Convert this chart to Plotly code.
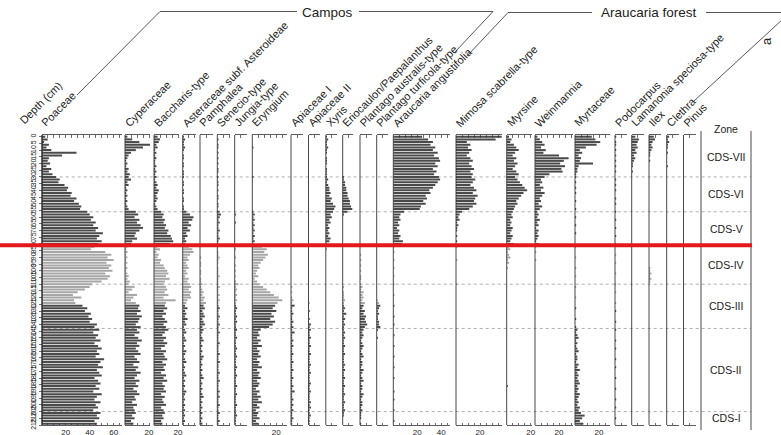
import plotly.graph_objects as go

W, H = 781, 435
def px(x):
    return x / W
def py(y):
    return 1 - y / H

# ---------------- data ----------------
depths = [0, 2, 4, 6, 8, 10, 12, 14, 16, 18,
          20, 22, 24, 26, 28, 30, 32, 34, 36, 38,
          40, 42, 44, 46, 48, 50, 52, 54, 56, 58,
          60, 62, 64, 66, 68, 70, 72, 74, 76, 78,
          80, 82, 84, 86, 88, 90, 92, 94, 96, 98,
          100, 102, 104, 106, 108, 110, 112, 114, 116, 118,
          120, 122, 124, 126, 128, 130, 132, 134, 136, 138,
          140, 142, 144, 146, 148, 150, 152, 154, 156, 158,
          160, 162, 164, 166, 168, 170, 172, 174, 176, 178,
          180, 182, 184, 186, 188, 190, 192, 194, 196, 198,
          200, 202, 204, 206, 208, 210, 212, 214]

poaceae = [3,5,2,6,4,8,29,17,6,5,
           7,4,8,6,9,12,15,14,19,22,
           21,25,24,29,27,31,33,32,38,40,
           43,41,45,43,47,45,51,48,46,50,
           47,44,41,53,58,55,60,54,58,56,
           59,53,57,55,50,42,40,36,30,26,
           33,27,28,34,38,36,41,39,42,40,
           46,44,48,43,47,45,49,44,47,50,
           46,48,45,52,49,47,51,46,48,50,
           44,47,49,45,48,43,50,46,44,49,
           45,47,43,49,46,48,44,46]
cyperaceae = [2,6,12,21,15,9,5,3,2,1,
              2,1,3,2,4,3,5,2,3,1,
              2,1,2,1,2,1,2,3,9,11,
              8,12,10,13,15,12,9,8,10,6,
              5,2,1,2,1,2,1,2,1,2,
              1,2,3,2,4,3,8,6,3,10,
              7,5,9,12,11,13,10,14,12,11,
              9,13,10,12,8,11,14,10,12,9,
              11,13,8,10,12,7,11,9,13,10,
              8,12,9,11,7,10,12,8,9,6,
              10,7,8,9,6,8,5,7]
baccharis = [3,5,4,2,3,1,2,1,2,1,
             1,2,1,2,1,2,1,2,3,2,
             4,3,2,3,2,1,2,3,6,8,
             7,9,8,10,9,12,11,14,15,16,
             13,3,5,2,4,3,6,5,8,9,
             11,12,10,13,9,8,10,11,9,12,
             8,18,10,9,11,8,10,7,9,11,
             8,10,12,9,7,10,8,11,9,6,
             10,8,9,11,7,10,8,9,6,10,
             8,11,7,9,8,10,6,9,7,8,
             10,6,8,9,7,8,6,7]
asteroideae = [1,2,1,1,2,1,0,1,1,0,
               1,1,0,1,1,1,0,1,1,0,
               1,1,0,1,1,0,1,1,3,6,
               9,8,5,7,4,6,3,4,2,3,
               2,5,8,9,6,4,5,3,4,5,
               3,4,2,5,4,6,7,5,7,6,
               7,4,3,2,4,2,3,2,4,2,
               3,1,2,3,1,2,3,1,2,1,
               3,2,1,2,3,1,2,1,2,3,
               1,2,1,2,1,3,2,1,2,1,
               2,1,2,1,2,1,2,1]
pamphalea = [0,0,0,0,0,0,0,0,0,0,
             0,0,0,0,0,0,0,0,0,0,
             0,0,0,0,0,0,0,0,0,0,
             0,0,0,0,0,0,0,0,0,0,
             0,0,0,0,0,1,0,1,1,0,
             1,1,0,1,1,2,1,2,3,2,
             4,3,5,3,4,2,3,4,2,3,
             4,2,3,2,1,2,3,1,2,1,
             2,1,3,2,1,2,1,2,1,2,
             3,1,2,1,2,1,2,3,1,2,
             1,2,1,2,1,2,1,2]
senecio = [0,1,0,1,1,0,1,0,1,0,
           1,0,1,1,0,1,0,1,1,0,
           1,0,1,1,0,1,1,0,2,3,
           2,1,2,1,1,2,1,1,2,1,
           1,1,0,1,1,2,1,1,0,1,
           1,1,2,1,1,1,2,1,1,2,
           1,2,1,1,2,1,1,2,1,1,
           2,1,1,2,1,1,1,2,1,1,
           1,2,1,1,2,1,1,1,2,1,
           1,2,1,1,1,2,1,2,1,1,
           2,1,1,2,1,1,2,1]
jungia = [0,0,0,0,0,0,0,0,0,0,
          0,0,0,0,0,0,0,0,0,0,
          0,0,0,0,0,0,0,0,0,1,
          0,0,1,0,0,0,0,0,0,0,
          0,0,1,0,0,1,0,0,1,0,
          1,0,1,0,1,3,1,2,1,2,
          1,2,1,1,2,1,1,2,1,2,
          1,1,2,1,1,2,1,1,1,2,
          1,1,2,1,1,1,2,1,1,2,
          1,1,1,2,1,1,2,1,1,1,
          2,1,1,1,2,1,1,1]
eryngium = [0,0,0,0,1,0,0,0,0,0,
            0,0,0,0,0,1,0,0,0,0,
            0,0,0,0,0,0,0,0,1,2,
            1,2,1,2,1,2,1,2,1,2,
            1,8,12,10,13,11,9,7,5,6,
            4,3,5,2,4,6,9,12,15,18,
            22,25,21,19,17,20,16,18,15,19,
            17,14,7,5,6,4,7,5,8,4,
            6,5,7,4,6,5,8,4,6,5,
            7,4,6,5,3,6,4,7,5,8,
            4,6,3,5,4,6,3,5]
apiaceae_i = [0,0,0,0,0,0,0,0,0,0,
              0,0,0,0,0,0,0,0,0,0,
              0,0,0,0,0,0,0,0,0,0,
              0,0,0,0,0,0,0,0,0,0,
              0,0,0,0,0,0,0,0,0,0,
              0,0,0,0,0,0,1,0,1,0,
              1,2,1,3,1,1,2,1,1,2,
              1,2,1,3,1,1,2,1,2,1,
              1,2,1,1,2,1,1,2,1,1,
              2,1,1,2,1,3,1,1,2,1,
              2,1,2,1,1,2,1,1]
apiaceae_ii = [0,0,0,0,0,0,0,0,0,0,
               0,0,0,0,0,0,0,0,0,0,
               0,0,0,0,0,0,0,0,0,0,
               0,0,0,0,0,0,0,0,0,0,
               0,0,0,0,0,0,0,0,0,0,
               0,0,0,0,0,0,0,0,0,0,
               0,0,1,0,0,1,0,0,1,0,
               2,1,2,1,1,2,1,1,2,1,
               1,2,1,1,1,2,1,1,2,1,
               1,1,2,1,1,2,1,1,1,2,
               1,2,1,1,2,1,1,1]
xyris = [1,2,1,1,2,1,1,0,1,1,
         1,0,1,1,1,1,2,1,2,3,
         3,4,3,5,4,6,8,7,6,4,
         5,3,4,2,3,2,3,2,4,3,
         1,0,1,0,0,0,0,0,0,0,
         0,0,0,0,0,0,0,0,0,0,
         0,0,0,0,0,0,0,0,0,0,
         0,0,0,0,0,0,0,0,0,0,
         0,0,0,0,0,0,0,0,0,0,
         0,0,0,0,0,0,0,0,0,0,
         0,0,0,0,0,0,0,0]
eriocaulon = [0,0,0,0,0,0,0,0,0,0,
              0,0,0,0,0,1,1,2,2,3,
              3,4,4,5,6,6,7,8,4,1,
              0,0,0,0,0,0,0,0,0,0,
              0,0,0,0,0,0,0,0,0,0,
              0,0,0,0,0,0,1,0,1,1,
              1,2,1,1,2,1,3,1,2,1,
              2,1,1,2,1,2,1,1,2,1,
              1,2,1,1,1,2,1,2,1,1,
              2,1,1,2,1,1,2,1,1,2,
              1,1,2,1,1,0,0,0]
plantago_aus = [0,0,0,0,0,0,0,0,0,0,
                0,0,0,0,0,0,0,0,0,0,
                0,0,0,0,0,0,0,0,0,0,
                0,0,0,0,0,0,0,0,0,0,
                0,0,0,0,1,0,1,0,1,0,
                1,0,1,1,0,1,2,1,3,2,
                3,2,4,3,2,4,3,5,4,5,
                6,4,3,2,3,2,1,2,3,2,
                1,2,3,1,2,2,1,3,2,1,
                2,3,1,2,2,1,3,2,1,2,
                2,1,2,1,1,1,0,1]
plantago_tur = [0,0,0,0,0,0,0,0,0,0,
                0,0,0,0,0,0,0,0,0,0,
                0,0,0,0,0,0,0,0,0,0,
                0,0,0,0,0,0,0,0,0,0,
                0,0,0,0,0,0,0,0,0,0,
                0,0,0,0,0,0,0,0,0,0,
                0,1,2,3,2,1,2,1,1,2,
                2,3,1,0,0,1,0,0,0,0,
                0,0,0,0,0,0,0,0,0,0,
                0,0,0,0,0,0,0,0,0,0,
                0,0,0,0,0,0,0,0]
araucaria = [24,29,33,31,35,33,37,34,38,39,
             35,37,33,36,34,38,39,37,35,33,
             30,31,27,28,25,27,23,22,9,6,
             5,6,4,5,3,5,4,6,5,8,
             7,1,0,1,0,0,1,0,0,1,
             0,0,1,0,0,1,0,0,0,1,
             0,0,0,1,0,0,0,1,0,0,
             1,0,0,0,1,0,0,0,1,0,
             0,0,1,0,0,0,1,0,0,0,
             1,0,0,0,0,1,0,0,1,0,
             0,0,1,0,0,0,1,0]
mimosa = [40,33,9,12,10,13,11,9,12,14,
          11,13,15,12,14,13,16,14,12,15,
          17,14,18,16,15,17,14,11,5,3,
          2,3,1,2,1,1,0,1,0,1,
          0,1,0,0,0,0,1,0,0,0,
          0,0,0,0,0,1,0,0,0,0,
          0,0,0,0,0,0,0,0,0,0,
          0,0,0,0,0,0,0,0,0,0,
          0,0,0,0,0,0,0,0,0,0,
          0,0,0,0,0,0,0,0,0,0,
          0,0,0,0,0,0,0,0]
myrsine = [2,4,3,6,8,10,7,5,8,6,
           9,7,5,8,10,7,9,11,13,15,
           17,14,12,10,8,9,7,6,5,4,
           5,3,4,3,5,4,3,5,4,3,
           6,2,3,1,2,3,1,2,0,1,
           0,0,0,0,0,0,0,0,0,0,
           0,0,0,0,0,0,0,0,0,0,
           0,0,0,0,0,0,0,0,0,0,
           0,0,0,0,0,0,0,0,0,0,
           0,0,0,1,0,0,0,0,0,0,
           0,0,0,0,0,0,0,0]
weinmannia = [2,4,6,8,5,9,7,20,28,24,
              21,25,22,23,12,8,5,6,4,7,
              5,8,6,4,5,3,6,4,2,3,
              2,4,2,3,1,3,2,3,2,1,
              3,1,0,1,0,0,1,0,0,0,
              0,0,0,0,0,0,0,0,0,0,
              0,0,0,0,0,0,0,0,0,0,
              0,0,0,0,0,0,0,0,0,0,
              0,0,0,0,0,0,0,0,0,0,
              0,0,0,0,0,0,0,0,0,0,
              0,0,0,0,0,0,0,0]
myrtaceae = [14,17,21,18,9,4,6,3,5,4,
             15,3,2,2,1,1,0,1,0,1,
             0,1,0,0,1,0,0,1,0,0,
             1,0,0,1,0,0,1,0,0,0,
             0,1,0,0,0,1,0,0,0,1,
             0,0,1,0,0,0,1,0,0,0,
             1,0,0,0,1,0,0,0,1,0,
             0,1,2,1,2,3,1,2,1,2,
             3,1,2,2,1,3,2,4,2,3,
             2,3,4,2,3,2,4,3,2,3,
             2,4,3,5,8,6,4,7]
podocarpus = [1,0,1,1,0,1,0,1,0,1,
              0,1,0,1,0,0,1,0,1,0,
              1,0,0,1,0,1,0,0,1,0,
              0,1,0,0,1,0,0,1,0,0,
              1,0,0,0,1,0,0,1,0,0,
              0,1,0,0,0,1,0,0,1,0,
              0,0,1,0,0,1,0,0,0,1,
              0,0,1,0,0,0,1,0,0,1,
              0,0,0,1,0,0,1,0,0,0,
              1,0,0,0,1,0,0,0,1,0,
              0,1,0,0,0,1,0,0]
lamanonia = [3,6,5,4,5,3,4,2,3,2,
             1,1,0,1,0,0,0,0,0,0,
             0,0,0,0,0,0,0,0,0,0,
             0,0,0,0,0,0,0,0,0,0,
             0,0,0,0,0,0,0,0,0,0,
             0,0,0,0,0,0,0,0,0,0,
             0,0,0,0,0,0,0,0,0,0,
             0,0,0,0,0,0,0,0,0,0,
             0,0,0,0,0,0,0,0,0,0,
             0,0,0,0,0,0,0,0,0,0,
             0,0,0,0,0,0,0,0]
ilex = [4,5,3,2,3,2,1,1,0,1,
        0,0,0,0,0,0,0,0,0,0,
        0,0,0,0,0,0,0,0,0,0,
        0,0,0,0,0,0,0,0,0,0,
        0,0,0,0,0,0,0,0,0,1,
        1,2,1,2,1,0,0,0,0,0,
        0,0,0,0,0,0,0,0,0,0,
        0,0,0,0,0,0,0,0,0,0,
        0,0,0,0,0,0,0,0,0,0,
        0,0,0,0,0,0,0,0,0,0,
        0,0,0,0,0,0,0,0]
clethra = [2,1,2,1,1,0,1,0,0,0,
           0,1,0,0,0,0,0,0,0,0,
           0,0,0,0,0,0,0,0,0,0,
           0,0,0,0,0,0,0,0,0,0,
           0,0,0,0,0,0,0,0,0,0,
           0,0,0,0,0,0,0,0,0,0,
           0,0,0,0,0,0,0,0,0,0,
           0,0,0,0,0,0,0,0,0,0,
           0,0,0,0,0,0,0,0,0,0,
           0,0,0,0,0,0,0,0,0,0,
           0,0,0,0,0,0,0,0]
pinus = [0,0,0,0,0,0,0,0,0,0,
         0,0,0,0,0,0,0,0,0,0,
         0,0,0,0,0,0,0,0,0,0,
         0,0,0,0,0,0,0,0,0,0,
         0,0,0,0,0,0,0,0,0,0,
         0,0,0,0,0,0,0,0,0,0,
         0,0,0,0,0,0,0,0,0,0,
         0,0,0,0,0,0,0,0,0,0,
         0,0,0,0,0,0,0,0,0,0,
         0,0,0,0,0,0,0,0,0,0,
         0,0,0,0,0,0,0,0]

taxa_names = ["Poaceae", "Cyperaceae", "Baccharis-type", "Asteraceae subf. Asteroideae",
              "Pamphalea", "Senecio-type", "Jungia-type", "Eryngium", "Apiaceae I",
              "Apiaceae II", "Xyris", "Eriocaulon/Paepalanthus", "Plantago australis-type",
              "Plantago turficola-type", "Araucaria angustifolia", "Mimosa scabrella-type",
              "Myrsine", "Weinmannia", "Myrtaceae", "Podocarpus", "Lamanonia speciosa-type",
              "Ilex", "Clethra", "Pinus"]
taxa_values = [poaceae, cyperaceae, baccharis, asteroideae, pamphalea, senecio, jungia,
               eryngium, apiaceae_i, apiaceae_ii, xyris, eriocaulon, plantago_aus,
               plantago_tur, araucaria, mimosa, myrsine, weinmannia, myrtaceae,
               podocarpus, lamanonia, ilex, clethra, pinus]
axis_labels = {"Poaceae": [20, 40, 60], "Cyperaceae": [20], "Baccharis-type": [20],
               "Eryngium": [20], "Araucaria angustifolia": [20, 40],
               "Mimosa scabrella-type": [20, 40], "Myrsine": [20], "Weinmannia": [20],
               "Myrtaceae": [20]}

zone_names = ["CDS-VII", "CDS-VI", "CDS-V", "CDS-IV", "CDS-III", "CDS-II", "CDS-I"]
zone_bounds = [0, 30, 56, 81, 110, 143, 205, 215]
highlight_depth = 81
depth_ticks = [0, 5, 10, 15, 20, 25, 30, 35, 40, 45, 50, 55, 60, 65, 70, 75, 80, 85, 90,
               95, 100, 105, 110, 115, 120, 125, 130, 135, 140, 145, 150, 155, 160, 165,
               170, 175, 180, 185, 190, 195, 200, 205, 210, 215]

for nm, v in zip(taxa_names, taxa_values):
    assert len(v) == len(depths), (nm, len(v))

# ---------------- layout geometry (pixels) ----------------
panel_left = [41.7, 125, 154, 182.7, 200, 217.3, 234.7, 252.3, 291, 308.5, 325.8, 342.7,
              360, 376.7, 393.3, 456, 506.7, 535, 575, 615, 631.7, 649, 666.7, 683.5]
panel_width = [80, 25, 25, 13.5, 13, 13, 12, 34.5, 12, 11.5, 11.5, 10.5, 11.7, 11.5,
               57, 45.7, 25, 38, 35, 12, 12, 12, 12, 12]
SCALE = 1.2          # pixels per percent
Y_TOP, Y_BOT = 135, 425
D_TOP = -1.27

dark = "#4a4a4a"
light = "#a6a6a6"
bar_colors = [light if 82 <= d <= 124 else dark for d in depths]
line_col = "#333333"
FONT = "Liberation Sans, Arial, Helvetica, sans-serif"
TXT = "#222222"

fig = go.Figure()
layout = dict(width=W, height=H, margin=dict(l=0, r=0, t=0, b=0, autoexpand=False),
              paper_bgcolor="white", plot_bgcolor="rgba(0,0,0,0)",
              showlegend=False, barmode="overlay",
              font=dict(family=FONT, color=TXT))

layout["yaxis"] = dict(domain=[py(Y_BOT), py(Y_TOP)], range=[215, D_TOP],
                       anchor="free", position=px(41.7), side="left", automargin=False,
                       showline=True, linecolor=line_col, linewidth=0.8,
                       ticks="outside", ticklen=3, tickwidth=0.7, tickcolor=line_col,
                       tickvals=depth_ticks, ticktext=[str(t) for t in depth_ticks],
                       tickangle=-90, tickfont=dict(size=7, family=FONT),
                       showgrid=False, zeroline=False, fixedrange=True)

shapes = []
annotations = []
for i, (nm, vals) in enumerate(zip(taxa_names, taxa_values)):
    ax_id = "x" if i == 0 else f"x{i+1}"
    ax_key = "xaxis" if i == 0 else f"xaxis{i+1}"
    left, wid = panel_left[i], panel_width[i]
    rmax = wid / SCALE
    tv = [t for t in range(0, int(rmax) + 1, 5)]
    labs = axis_labels.get(nm, [])
    tt = [str(t) if t in labs else "" for t in tv]
    layout[ax_key] = dict(domain=[px(left), px(left + wid)], range=[0, rmax],
                          anchor="y", showline=True, mirror="ticks", automargin=False,
                          linecolor=line_col, linewidth=0.8,
                          ticks="inside", ticklen=2.5, tickwidth=0.7, tickcolor=line_col,
                          tickvals=tv, ticktext=tt, tickfont=dict(size=8, family=FONT),
                          showgrid=False, zeroline=False, fixedrange=True)
    fig.add_trace(go.Bar(x=vals, y=depths, orientation="h", width=1.5,
                         marker=dict(color=bar_colors, line=dict(width=0)),
                         xaxis=ax_id, yaxis="y", hoverinfo="skip"))
    shapes.append(dict(type="line", xref="paper", yref="paper",
                       x0=px(left), x1=px(left), y0=py(Y_BOT), y1=py(Y_TOP),
                       line=dict(color=line_col, width=0.9)))
    annotations.append(dict(text=nm, x=px(left + 5 - 10.5), y=py(131.5), xref="paper",
                            yref="paper", xanchor="left", yanchor="bottom",
                            textangle=-45, showarrow=False,
                            font=dict(size=11, family=FONT, color=TXT)))

annotations.append(dict(text="Depth (cm)", x=px(25 - 10.5), y=py(129.5), xref="paper",
                        yref="paper", xanchor="left", yanchor="bottom", textangle=-45,
                        showarrow=False, font=dict(size=11, family=FONT, color=TXT)))

# zone boundaries (dotted)
for b in zone_bounds[1:-1]:
    shapes.append(dict(type="line", xref="paper", yref="y", x0=px(41.7), x1=px(751),
                       y0=b, y1=b, layer="below",
                       line=dict(color="#9a9a9a", width=0.8, dash="dot")))
for xx in (701, 751):
    shapes.append(dict(type="line", xref="paper", yref="paper", x0=px(xx), x1=px(xx),
                       y0=py(430), y1=py(131), line=dict(color=line_col, width=0.9)))
annotations.append(dict(text="Zone", x=px(726), y=py(129), xref="paper", yref="paper",
                        xanchor="center", yanchor="middle", showarrow=False,
                        font=dict(size=10.5, family=FONT, color=TXT)))
for k, zn in enumerate(zone_names):
    mid = (zone_bounds[k] + zone_bounds[k + 1]) / 2
    annotations.append(dict(text=zn, x=px(726), y=mid, xref="paper", yref="y",
                            xanchor="center", yanchor="middle", showarrow=False,
                            font=dict(size=10.5, family=FONT, color=TXT)))

# group brackets
def poly(pts):
    for (xa, ya), (xb, yb) in zip(pts[:-1], pts[1:]):
        shapes.append(dict(type="line", xref="paper", yref="paper",
                           x0=px(xa), y0=py(ya), x1=px(xb), y1=py(yb),
                           line=dict(color="#444444", width=0.9)))

poly([(77, 95), (160, 11.5), (297, 11.5)])
poly([(359, 11.5), (493, 11.5), (455, 52)])
poly([(468, 55), (508, 12.5), (592, 12.5)])
poly([(706, 12.5), (790, 12.5), (694, 101)])
annotations.append(dict(text="Campos", x=px(327.5), y=py(12.5), xref="paper", yref="paper",
                        xanchor="center", yanchor="middle", showarrow=False,
                        font=dict(size=13.5, family=FONT, color=TXT)))
annotations.append(dict(text="Araucaria forest", x=px(648.5), y=py(13), xref="paper",
                        yref="paper", xanchor="center", yanchor="middle", showarrow=False,
                        font=dict(size=13.5, family=FONT, color=TXT)))
annotations.append(dict(text="a", x=px(766), y=py(41), xref="paper", yref="paper",
                        xanchor="center", yanchor="middle", showarrow=False, textangle=-90,
                        font=dict(size=13, family=FONT, color=TXT)))

shapes.append(dict(type="line", xref="paper", yref="y", x0=0, x1=px(752),
                   y0=highlight_depth, y1=highlight_depth,
                   line=dict(color="#e3191c", width=4)))

layout["shapes"] = shapes
layout["annotations"] = annotations
fig.update_layout(**layout)
fig.write_html("out.html", config={"displayModeBar": False, "staticPlot": True},
               post_script="document.body.style.margin='0';document.body.style.overflow='hidden';")
